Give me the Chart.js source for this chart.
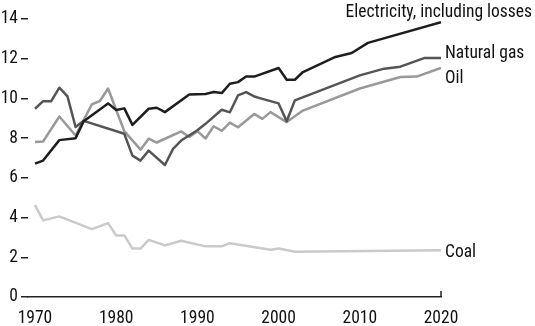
<!DOCTYPE html>
<html>
<head>
<meta charset="utf-8">
<script src="https://cdn.jsdelivr.net/npm/chart.js@4"></script>
<style>
  html, body { margin: 0; padding: 0; background: #fff; }
  #wrap { width: 535px; height: 326px; position: relative; }
</style>
</head>
<body>
<div id="wrap"><canvas id="chart"></canvas></div>
<script>
// Energy use by source, 1970–2020

const FONT = "'Liberation Sans Narrow', 'Roboto Condensed', 'DejaVu Sans Condensed', 'Liberation Sans', sans-serif";

const yTicks = [0, 2, 4, 6, 8, 10, 12, 14];
const xTicks = [1970, 1980, 1990, 2000, 2010, 2020];

const elecYears = [1970, 1971, 1973, 1975, 1976, 1979, 1980, 1981, 1982, 1984, 1985, 1986, 1989, 1991, 1992, 1993, 1994, 1995, 1996, 1997, 2000, 2001, 2002, 2003, 2007, 2009, 2011, 2020];
const elecValues = [6.72, 6.87, 7.9, 8.0, 8.85, 9.75, 9.42, 9.5, 8.67, 9.48, 9.53, 9.31, 10.2, 10.22, 10.32, 10.27, 10.74, 10.82, 11.1, 11.1, 11.53, 10.94, 10.94, 11.33, 12.09, 12.29, 12.8, 13.84];

const gasYears = [1970, 1971, 1972, 1973, 1974, 1975, 1976, 1981, 1982, 1983, 1984, 1986, 1987, 1988, 1990, 1991, 1993, 1994, 1995, 1996, 1997, 1998, 2000, 2001, 2002, 2010, 2013, 2015, 2018, 2020];
const gasValues = [9.48, 9.86, 9.86, 10.54, 10.1, 8.56, 8.87, 8.22, 7.12, 6.87, 7.37, 6.65, 7.46, 7.88, 8.4, 8.72, 9.43, 9.3, 10.15, 10.32, 10.1, 9.98, 9.75, 8.85, 9.9, 11.16, 11.5, 11.6, 12.04, 12.04];

const oilYears = [1970, 1971, 1973, 1975, 1977, 1978, 1979, 1981, 1983, 1984, 1985, 1988, 1989, 1990, 1991, 1992, 1993, 1994, 1995, 1997, 1998, 1999, 2001, 2003, 2010, 2015, 2017, 2020];
const oilValues = [7.8, 7.83, 9.09, 8.13, 9.7, 9.87, 10.5, 8.35, 7.42, 7.97, 7.78, 8.34, 8.06, 8.35, 7.98, 8.6, 8.37, 8.78, 8.55, 9.22, 8.97, 9.31, 8.81, 9.39, 10.5, 11.08, 11.1, 11.53];

const coalYears = [1970, 1971, 1973, 1977, 1979, 1980, 1981, 1982, 1983, 1984, 1986, 1988, 1991, 1993, 1994, 1999, 2000, 2002, 2020];
const coalValues = [4.63, 3.86, 4.06, 3.42, 3.72, 3.1, 3.1, 2.44, 2.44, 2.88, 2.6, 2.83, 2.55, 2.55, 2.71, 2.38, 2.44, 2.28, 2.36];

const seriesNames = ['Electricity, including losses', 'Natural gas', 'Oil', 'Coal'];

function pairs(xs, ys) {
    return xs.map((x, i) => ({ x, y: ys[i] }));
}

function line(label, xs, ys, color) {
    return {
        label,
        data: pairs(xs, ys),
        borderColor: color,
        backgroundColor: color,
        borderWidth: 2.5,
        pointRadius: 0,
        tension: 0,
        fill: false,
        borderJoinStyle: 'round',
    };
}

// series name written at the right end of each line
const endLabels = {
    id: 'endLabels',
    afterDatasetsDraw(chart) {
        const ctx = chart.ctx;
        ctx.save();
        ctx.font = '17.5px ' + FONT;
        ctx.fillStyle = '#111';
        ctx.textBaseline = 'alphabetic';
        chart.data.datasets.forEach((ds, i) => {
            const pts = chart.getDatasetMeta(i).data;
            const p = pts[pts.length - 1];
            if (i === 0) {
                ctx.textAlign = 'right';
                ctx.fillText(ds.label, chart.width - 3, p.y - 5);
            } else {
                ctx.textAlign = 'left';
                const dy = i === 1 ? 0 : i === 2 ? 15 : 7;
                ctx.fillText(ds.label, p.x + 4, p.y + dy);
            }
        });
        // small upward tick at the end of the x axis
        const a = chart.chartArea;
        ctx.strokeStyle = '#222';
        ctx.lineWidth = 1.5;
        ctx.beginPath();
        ctx.moveTo(a.right, a.bottom);
        ctx.lineTo(a.right, a.bottom - 6);
        ctx.stroke();
        ctx.restore();
    }
};

new Chart(document.getElementById('chart'), {
    type: 'line',
    data: {
        datasets: [
            line(seriesNames[0], elecYears, elecValues, '#1e1e1e'),
            line(seriesNames[1], gasYears, gasValues, '#555555'),
            line(seriesNames[2], oilYears, oilValues, '#999999'),
            line(seriesNames[3], coalYears, coalValues, '#cacaca'),
        ]
    },
    options: {
        responsive: true,
        maintainAspectRatio: false,
        animation: false,
        layout: { padding: { top: 19, right: 94, bottom: 0, left: 0 } },
        plugins: {
            legend: { display: false },
            tooltip: { enabled: false },
        },
        scales: {
            x: {
                type: 'linear',
                min: 1969.14,
                max: 2020,
                afterBuildTicks: (axis) => { axis.ticks = xTicks.map(v => ({ value: v })); },
                afterFit: (axis) => { axis.height = 29; },
                grid: { display: false, drawTicks: false },
                border: { display: true, color: '#222', width: 1.5 },
                ticks: {
                    color: '#111',
                    padding: 11,
                    maxRotation: 0,
                    autoSkip: false,
                    font: { family: FONT, size: 17.5 },
                    callback: (v) => String(v),
                },
            },
            y: {
                min: 0,
                max: 14,
                afterBuildTicks: (axis) => { axis.ticks = yTicks.map(v => ({ value: v })); },
                afterFit: (axis) => { axis.width = 28; },
                grid: {
                    display: true,
                    drawOnChartArea: false,
                    drawTicks: true,
                    tickLength: 7,
                    color: '#222',
                    lineWidth: 1.5,
                },
                border: { display: false },
                ticks: {
                    color: '#111',
                    padding: 3,
                    font: { family: FONT, size: 17.5 },
                },
            },
        },
    },
    plugins: [endLabels],
});
</script>
</body>
</html>
